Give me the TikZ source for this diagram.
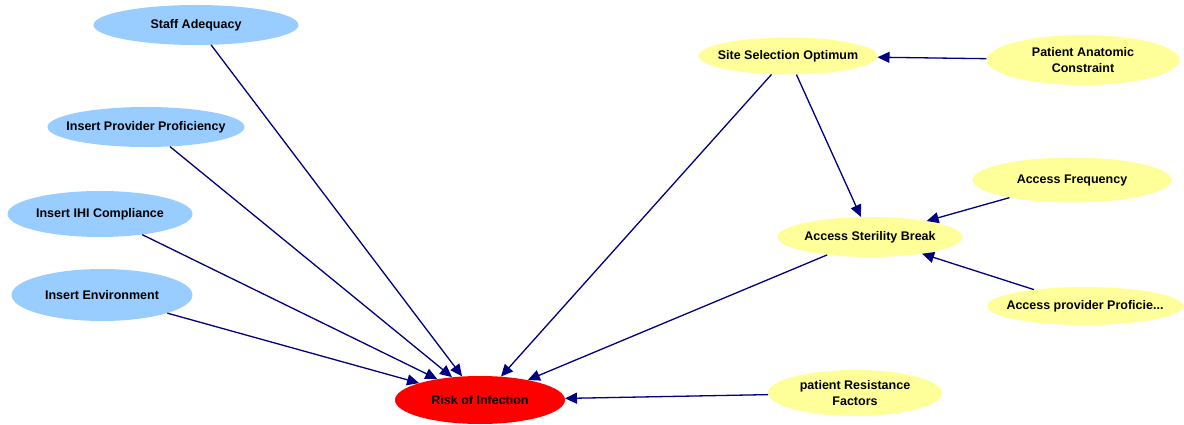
\documentclass[tikz,border=0pt]{standalone}
\usepackage{fontspec}
\setmainfont{Liberation Sans}
\usetikzlibrary{shapes.geometric,arrows.meta}
\definecolor{bluenode}{RGB}{153,204,255}
\definecolor{yellownode}{RGB}{255,255,153}
\definecolor{rednode}{RGB}{255,0,0}
\definecolor{navy}{RGB}{0,0,128}
\tikzset{
  factor/.style={ellipse, inner sep=0pt},
  caption/.style={font=\fontsize{12.5}{15.5}\selectfont\bfseries, align=center, inner sep=0pt},
  bluefactor/.style={factor, fill=bluenode},
  yellowfactor/.style={factor, fill=yellownode},
  outcome/.style={factor, fill=rednode},
  link/.style={draw=navy, line width=1.3pt, -{Triangle[length=12pt,width=11pt]}, fill=navy},
}
% ellipse of fixed size with its caption set in the middle
\newcommand{\factornode}[6]{%
  \node[#1, minimum width=#2pt, minimum height=#3pt,
        label={[caption]center:#6}] (#4) at (#5) {};}
\begin{document}
\begin{tikzpicture}[x=1pt,y=-1pt]
\useasboundingbox (0,0) rectangle (1184,425);
% left-hand causes
\factornode{bluefactor}{205}{40}{staff}{196,25}{Staff Adequacy}
\factornode{bluefactor}{197}{40}{prov}{146,127}{Insert Provider Proficiency}
\factornode{bluefactor}{185}{46}{ihi}{100,214}{Insert IHI Compliance}
\factornode{bluefactor}{181}{52}{env}{102,295}{Insert Environment}
% outcome
\factornode{outcome}{170}{48}{risk}{480,400}{Risk of Infection}
% right-hand causes
\factornode{yellowfactor}{179}{37}{site}{788,56}{Site Selection Optimum}
\factornode{yellowfactor}{193}{50}{anat}{1083,60}{Patient Anatomic\\Constraint}
\factornode{yellowfactor}{199}{45}{freq}{1072,180}{Access Frequency}
\factornode{yellowfactor}{185}{40}{steril}{870,237}{Access Sterility Break}
\factornode{yellowfactor}{196}{38}{accprov}{1085,306}{Access provider Proficie...}
\factornode{yellowfactor}{174}{46}{resist}{855,393}{patient Resistance\\Factors}
% influences
\draw[link] (staff) -- (risk);
\draw[link] (prov) -- (risk);
\draw[link] (ihi) -- (risk);
\draw[link] (env) -- (risk);
\draw[link] (site) -- (risk);
\draw[link] (steril) -- (risk);
\draw[link] (resist) -- (risk);
\draw[link] (site) -- (steril);
\draw[link] (anat) -- (site);
\draw[link] (freq) -- (steril);
\draw[link] (accprov) -- (steril);
\end{tikzpicture}
\end{document}
